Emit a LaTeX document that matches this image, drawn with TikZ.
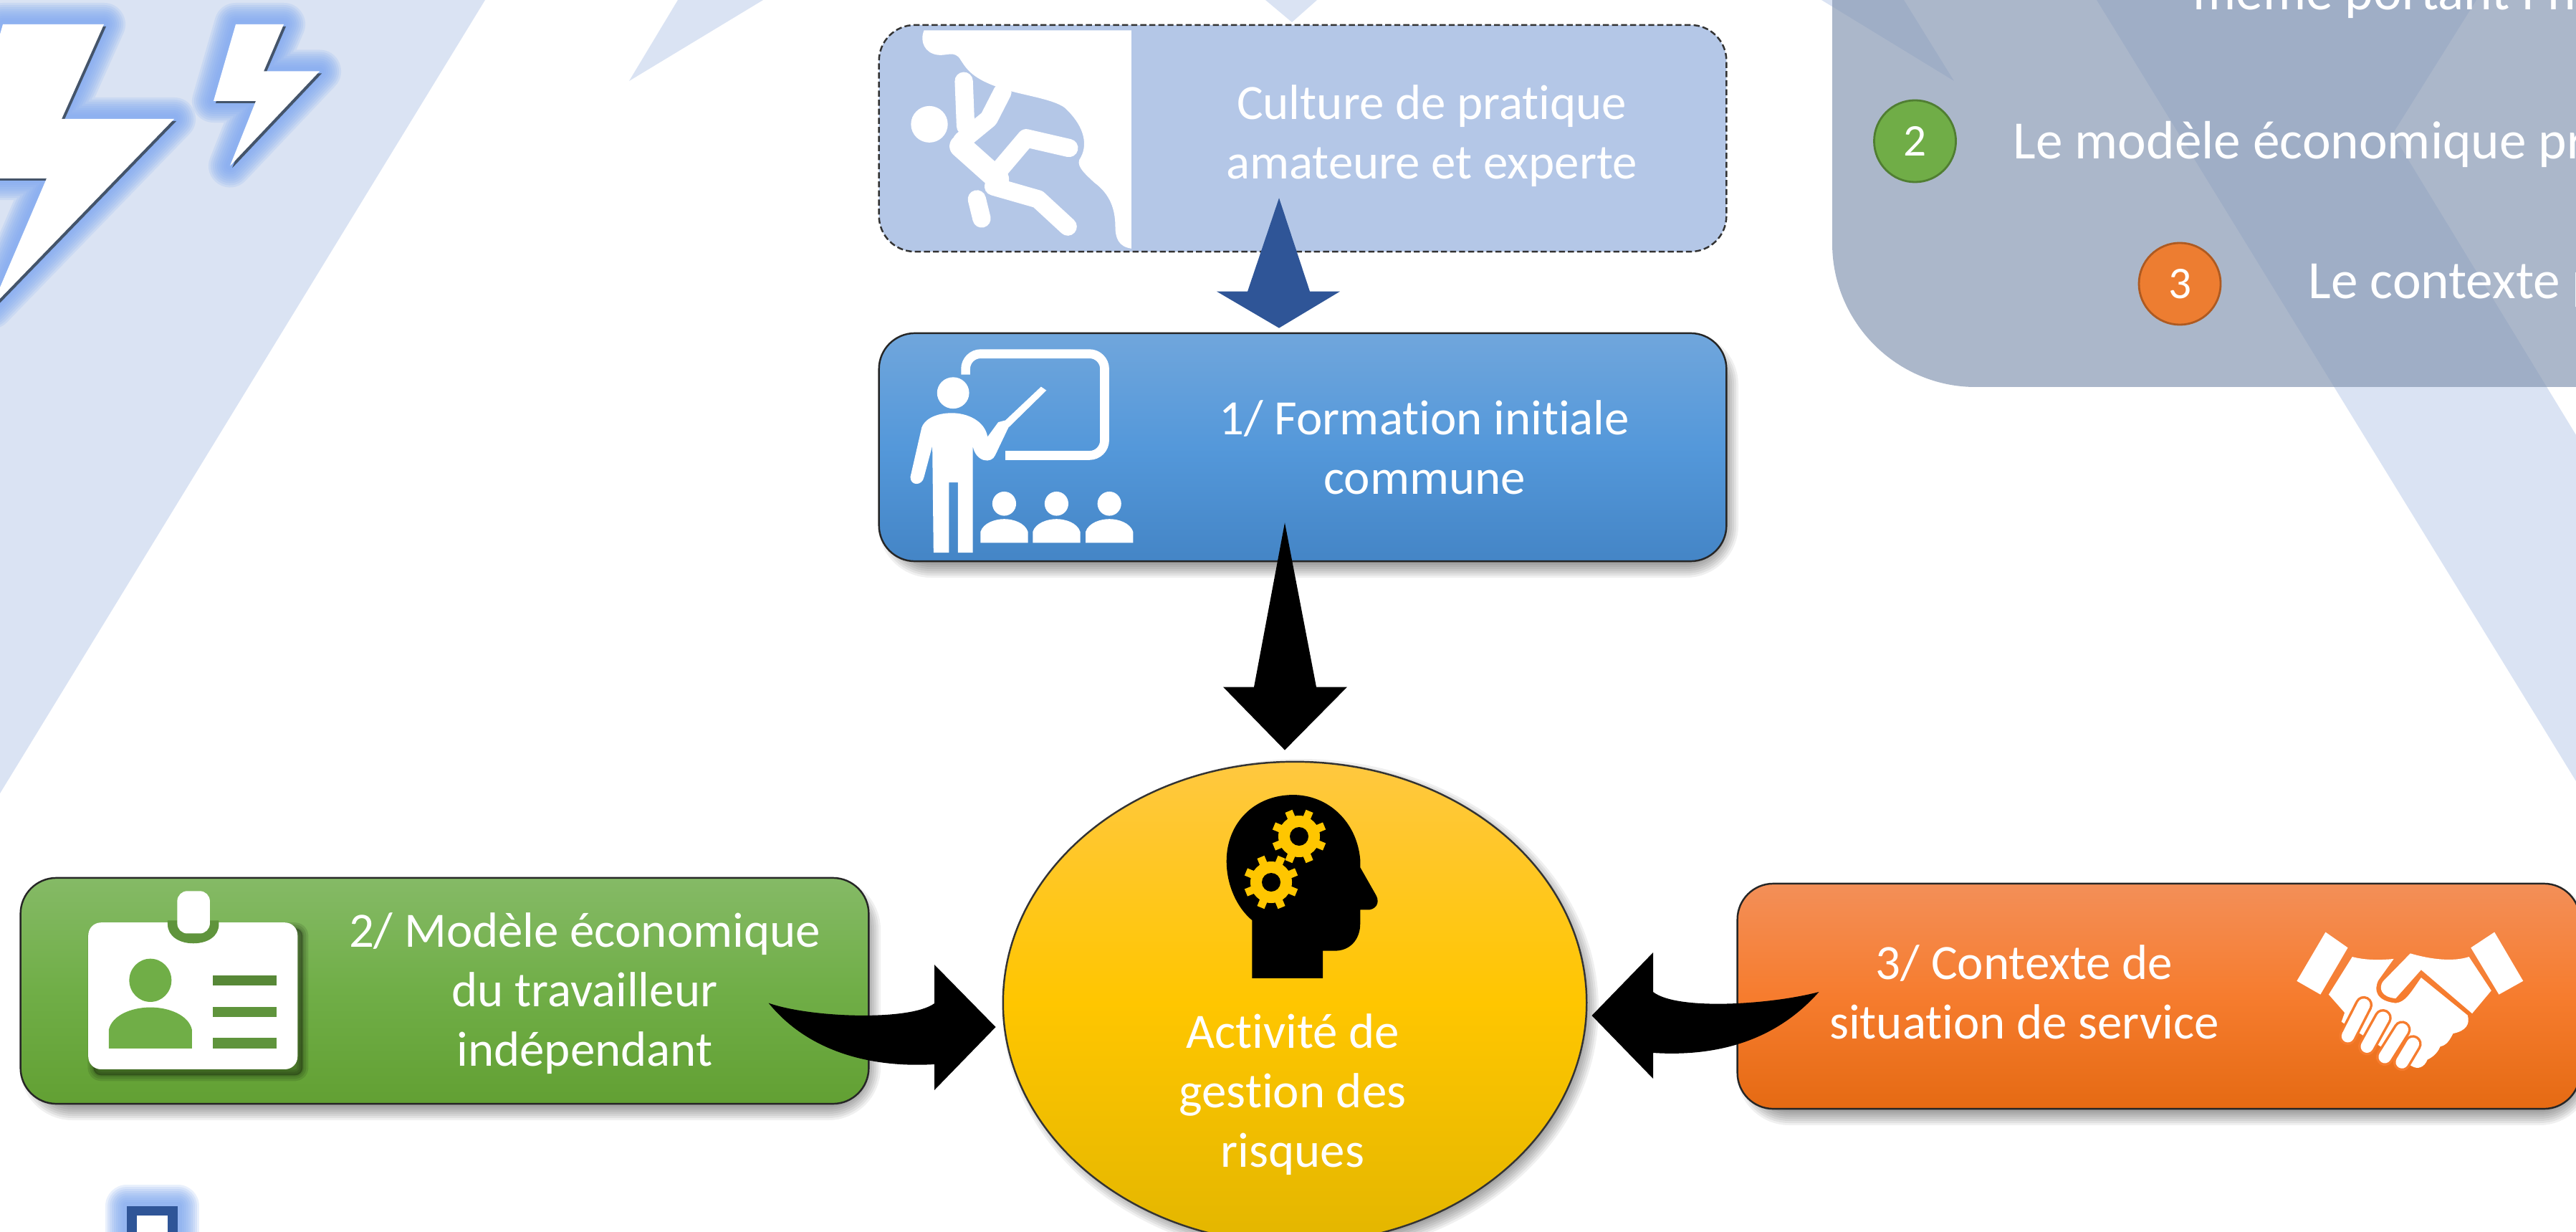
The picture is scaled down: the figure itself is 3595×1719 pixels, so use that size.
\documentclass[tikz,border=0pt]{standalone}
\usepackage{fontspec}
\setmainfont[Ligatures=NoCommon]{Carlito}
\usetikzlibrary{shapes.geometric,calc}
\definecolor{bandblue}{HTML}{DAE3F3}
\definecolor{panelc}{HTML}{8193B0}
\definecolor{shadowc}{HTML}{44546A}
\definecolor{glowc}{HTML}{7FA8F0}
\definecolor{navy}{HTML}{2F5597}
\definecolor{cultfill}{HTML}{B4C7E7}
\definecolor{blueT}{HTML}{70A6DC}\definecolor{blueM}{HTML}{5498DA}\definecolor{blueB}{HTML}{4485C6}
\definecolor{greenT}{HTML}{85BA66}\definecolor{greenM}{HTML}{70AE47}\definecolor{greenB}{HTML}{62A033}
\definecolor{orT}{HTML}{F38F58}\definecolor{orM}{HTML}{F67C2E}\definecolor{orB}{HTML}{E56A13}
\definecolor{yelT}{HTML}{FFC840}\definecolor{yelM}{HTML}{FFC600}\definecolor{yelB}{HTML}{E3B600}
\definecolor{numgreen}{HTML}{70AD47}\definecolor{numgreenD}{HTML}{507E32}
\definecolor{numor}{HTML}{ED7D31}\definecolor{numorD}{HTML}{AE5A21}
\tikzset{
  band/.style={fill=bandblue,draw=none},
  boxnode/.style={rectangle,rounded corners=0.5cm,draw=black!85,line width=0.7pt,inner sep=0pt},
  lab/.style={text=white,align=center,inner sep=0pt,font=\fontsize{19.6}{23.6}\selectfont},
  paneltext/.style={text=white,inner sep=0pt,anchor=base west,font=\fontsize{21.4}{24}\selectfont},
  num/.style={circle,text=white,line width=0.8pt,minimum size=1.14cm,inner sep=0pt,font=\fontsize{18}{20}\selectfont},
  iconw/.style={fill=white,draw=none},
  limb/.style={draw=white,line cap=round,line join=round,line width=7.2pt},
  blockblue/.style={fill=navy,draw=none},
  blockblack/.style={fill=black,draw=none},
}
% soft drop shadow of a rounded rectangle
\newcommand\softbox[5]{%
  \foreach \w in {46,40,34,28,22,16,10,4}{%
    \draw[black,opacity=0.06,fill=black,rounded corners=#5*0.01cm,line width=\w*0.2845pt,line join=round]
      (#1+22,#2+22) rectangle (#3-6,#4);}}
% glow round a closed path
\newcommand\glowpath[1]{%
  \foreach \w in {60,54,48,42,36,30,24,18,12}{%
    \draw[glowc,opacity=0.17,line width=\w*0.2845pt,line join=round] #1;}}
\begin{document}
\begin{tikzpicture}[x=0.01cm,y=-0.01cm]
\useasboundingbox (0,0) rectangle (3595,1719);
\clip (0,0) rectangle (3595,1719);
\fill[white] (0,0) rectangle (3595,1719);
% background shapes
\fill[band] (0,0) -- (677,0) -- (0,1107) -- cycle;
\fill[band] (946,0) -- (1065,0) -- (878,113) -- cycle;
\fill[band] (1766,0) -- (1838,0) -- (1803,31) -- cycle;
\fill[band] (2542,0) -- (2657,0) -- (2727,113) -- cycle;
\fill[band] (2926,0) -- (3456,0) -- (3339,187) -- (3595,607) -- (3595,1090) -- cycle;
% panel
\fill[panelc,opacity=0.66] (2557,-10) -- (2557,340) .. controls (2557,450) and (2647,540) .. (2757,540) -- (3610,540) -- (3610,-10) -- cycle;
\node[paneltext] (t1) at (3060,14) {même portant l’ho};
\node[paneltext] (t2) at (2809,222) {Le modèle économique pr};
\node[paneltext] (t3) at (3221,417) {Le contexte p};
\node[num,fill=numgreen,draw=numgreenD] (n2) at (2672.5,197) {2};
\node[num,fill=numor,draw=numorD] (n3) at (3042,396) {3};
% lightning bolts
\def\boltA{(329,34) -- (396,34) -- (368,99.5) -- (446,99.5) -- (321,231.5) -- (357,141) -- (298,141) -- cycle}
\def\boltB{(4,34) -- (145,34) -- (86,166) -- (243,166) -- (-12,429) -- (65,249) -- (-58,249) -- cycle}
\glowpath{\boltB}
\glowpath{\boltA}
\fill[shadowc,shift={(3,3)}] \boltB;
\fill[shadowc,shift={(3,3)}] \boltA;
\fill[white] \boltB;
\fill[white] \boltA;
% bottom-left fragment
\glowpath{(177,1683) rectangle (248,1760)}
\fill[navy] (177,1683) rectangle (248,1760);
\fill[white] (191,1696) rectangle (234,1760);
% shadows
\softbox{1227}{465}{2409}{783}{50}
\softbox{29}{1225}{1212}{1540}{50}
\softbox{2425}{1233}{3600}{1547}{50}
\foreach \w in {46,40,34,28,22,16,10,4}{\draw[black,opacity=0.06,fill=black,line width=\w*0.2845pt] (1807+8,1399+8) ellipse[x radius=393,y radius=325];}
% main nodes
\node[boxnode,fill=cultfill,dashed,dash pattern=on 2.4pt off 1.2pt,draw=black!80,minimum width=11.82cm,minimum height=3.16cm] (culture) at (1818,193) {};
\node[boxnode,top color=blueT,bottom color=blueB,middle color=blueM,minimum width=11.82cm,minimum height=3.18cm] (formation) at (1818,624) {};
\node[boxnode,top color=greenT,bottom color=greenB,middle color=greenM,minimum width=11.83cm,minimum height=3.15cm] (modele) at (620.5,1382.5) {};
\node[boxnode,top color=orT,bottom color=orB,middle color=orM,minimum width=11.75cm,minimum height=3.14cm] (contexte) at (3012.5,1390) {};
\node[ellipse,draw=black!80,line width=0.7pt,top color=yelT,bottom color=yelB,middle color=yelM,minimum width=8.14cm,minimum height=6.72cm,inner sep=0pt] (activite) at (1807,1399) {};
% climber icon
\begin{scope}[shift={(1200,0)},xscale=0.829,yscale=0.51]
\fill[iconw] (108,83) -- (457,83) -- (457,680) .. controls (435,675) and (430,650) .. (430,620)
  .. controls (430,570) and (420,530) .. (395,500) .. controls (375,470) and (362,450) .. (372,430)
  .. controls (385,390) and (375,340) .. (345,295) .. controls (325,270) and (270,260) .. (235,240)
  .. controls (190,215) and (180,190) .. (170,165) .. controls (160,135) and (145,155) .. (130,150)
  .. controls (110,145) and (100,115) .. (108,83) -- cycle;
\fill[iconw] (117,340) ellipse[x radius=31,y radius=50];
\draw[limb] (175,222) -- (178,345);
\draw[limb] (240,252) -- (217,325) -- (172,385);
\draw[limb,line width=9pt] (170,400) -- (232,490);
\draw[limb] (232,470) -- (280,378) -- (352,405);
\draw[limb] (225,510) -- (300,545) -- (350,620);
\draw[limb] (197,545) -- (205,598);
\end{scope}
% teacher icon
\begin{scope}[shift={(1200,0)},xscale=0.829,yscale=0.51]
\draw[draw=white,line width=3.6pt,line join=round,line cap=butt,rounded corners=6pt] (178,1025) -- (178,968) -- (412,968) -- (412,1246) -- (245,1246);
\fill[iconw] (157,1075) ellipse[x radius=27,y radius=43];
\fill[iconw] (155,1130) .. controls (125,1130) and (108,1150) .. (104,1170) -- (85,1305) .. controls (85,1330) and (105,1330) .. (108,1305)
  -- (122,1220) -- (124,1512) -- (150,1512) -- (150,1320) -- (165,1320) -- (165,1512) -- (190,1512) -- (190,1220)
  .. controls (195,1265) and (222,1270) .. (228,1245) -- (250,1170) -- (314,1068) -- (305,1058) -- (245,1150) -- (233,1155) -- (215,1195)
  .. controls (210,1150) and (180,1130) .. (155,1130) -- cycle;
\foreach \cx in {243,331,420}{
  \fill[iconw] (\cx,1378) ellipse[x radius=20,y radius=33];
  \fill[iconw] (\cx-40,1485) -- (\cx-40,1455) .. controls (\cx-35,1430) and (\cx-15,1420) .. (\cx,1420) .. controls (\cx+15,1420) and (\cx+35,1430) .. (\cx+40,1455) -- (\cx+40,1485) -- cycle;
}
\end{scope}
% badge icon
\begin{scope}[shift={(0,1150)},xscale=0.893,yscale=0.363]
\foreach \w in {16,10,4}{\draw[black,opacity=0.1,fill=black,line width=\w*0.2845pt,rounded corners=3pt,line join=round] (146,400) rectangle (473,965);}
\fill[iconw,rounded corners=5pt] (138,378) rectangle (465,942);
\fill[greenM!85!black] (262,370) -- (342,370) -- (342,385) .. controls (342,430) and (325,458) .. (302,458) .. controls (280,458) and (262,430) .. (262,385) -- cycle;
\fill[iconw,rounded corners=4pt] (277,257) rectangle (328,420);
\fill[greenM] (235,600) ellipse[x radius=33,y radius=83];
\fill[greenM] (170,862) -- (170,790) .. controls (175,735) and (205,704) .. (235,704) .. controls (265,704) and (295,735) .. (300,790) -- (300,862) -- cycle;
\fill[greenM!78!black] (333,580) rectangle (432,620);
\fill[greenM!85!black] (333,702) rectangle (432,742);
\fill[greenM!85!black] (333,822) rectangle (432,862);
\end{scope}
% handshake icon
\begin{scope}[shift={(2200,1150)},xscale=0.8897,yscale=0.3628]
\fill[iconw] (1175,415) -- (1210,475) -- (1167,655) -- (1130,603) -- cycle;
\fill[iconw] (1440,415) -- (1403,475) -- (1447,655) -- (1485,603) -- cycle;
\fill[iconw] (1217,510) .. controls (1240,525) and (1265,522) .. (1282,518) -- (1258,600) .. controls (1250,640) and (1255,680) .. (1285,688) .. controls (1300,685) and (1308,650) .. (1325,590)
  -- (1398,735) .. controls (1402,770) and (1395,795) .. (1375,805) .. controls (1370,830) and (1365,850) .. (1355,855) .. controls (1350,885) and (1340,900) .. (1335,905) .. controls (1330,935) and (1320,945) .. (1310,930)
  -- (1200,760) -- (1205,725) -- (1180,655) -- cycle;
\fill[iconw] (1308,497) .. controls (1340,520) and (1375,530) .. (1400,510) -- (1435,640) -- (1405,728) -- (1325,560) -- (1285,670) .. controls (1262,665) and (1258,630) .. (1265,605) -- cycle;
\foreach \a/\b/\c/\d in {1235/695/1210/815,1265/745/1240/855,1295/790/1268/895,1312/845/1295/915}{
  \draw[orM,line width=7pt,line cap=round] (\a,\b) -- (\c,\d);
  \draw[white,line width=5pt,line cap=round] (\a,\b) -- (\c,\d);
}
\end{scope}
% head icon
\begin{scope}[shift={(1400,1030)},xscale=0.574,yscale=0.4394]
\fill[black] (605,762) -- (777,762) -- (777,675) -- (810,675) .. controls (850,672) and (868,630) .. (868,590) -- (868,545) -- (890,545)
 .. controls (912,540) and (915,515) .. (905,495) -- (868,410) -- (868,385) .. controls (860,265) and (790,180) .. (705,180)
 .. controls (610,180) and (543,270) .. (543,390) .. controls (543,470) and (570,540) .. (605,578) -- cycle;
\end{scope}
\foreach \cx/\cy in {1813/1167,1774/1231}{
  \fill[yelM] (\cx,\cy) circle[radius=29];
  \foreach \a in {0,45,...,315}{\draw[yelM,line width=3.1pt] (\cx,\cy) -- ++(\a+22.5:38);}
  \fill[black] (\cx,\cy) circle[radius=13];
}
% labels
\node[lab] (lculture) at (1998,190) {Culture de pratique\\amateure et experte};
\node[lab] (lformation) at (1988,624) {1/ Formation initiale\\commune};
\node[lab] (lmodele) at (816,1386) {2/ Modèle économique\\du travailleur\\indépendant};
\node[lab] (lcontexte) at (2825,1384) {3/ Contexte de\\situation de service};
\node[lab] (lactivite) at (1804,1527) {Activité de\\gestion des\\risques};
% block arrows
\coordinate (a1s) at ([shift={(-33,-76)}]culture.south);
\coordinate (a1e) at ([shift={(-33,-6)}]formation.north);
\fill[blockblue] (a1s) -- ([shift={(43,-51)}]a1e) -- ([shift={(85,-51)}]a1e) -- (a1e) -- ([shift={(-87,-51)}]a1e) -- ([shift={(-44,-51)}]a1e) -- cycle;
\coordinate (a2s) at ([shift={(-25,-55)}]formation.south);
\coordinate (a2e) at ([shift={(-14,-15)}]activite.north);
\fill[blockblack] (a2s) -- ([shift={(44,-88)}]a2e) -- ([shift={(87,-88)}]a2e) -- (a2e) -- ([shift={(-86,-88)}]a2e) -- ([shift={(-43,-88)}]a2e) -- cycle;
\coordinate (a3s) at ([shift={(-141,17)}]modele.east);
\coordinate (a3e) at ([shift={(-9,34)}]activite.west);
\fill[blockblack] (a3s) .. controls (1130,1420) and (1270,1425) .. (1304,1400) -- (1304,1346) -- (a3e) -- (1304,1521) -- (1304,1485)
  .. controls (1220,1490) and (1130,1470) .. (a3s) -- cycle;
\coordinate (a4s) at ([shift={(115,-6)}]contexte.west);
\coordinate (a4e) at ([shift={(6,18)}]activite.east);
\fill[blockblack] (a4s) .. controls (2470,1402) and (2340,1410) .. (2307,1384) -- (2307,1329) -- (a4e) -- (2307,1505) -- (2307,1469)
  .. controls (2400,1475) and (2480,1450) .. (a4s) -- cycle;
\end{tikzpicture}
\end{document}
